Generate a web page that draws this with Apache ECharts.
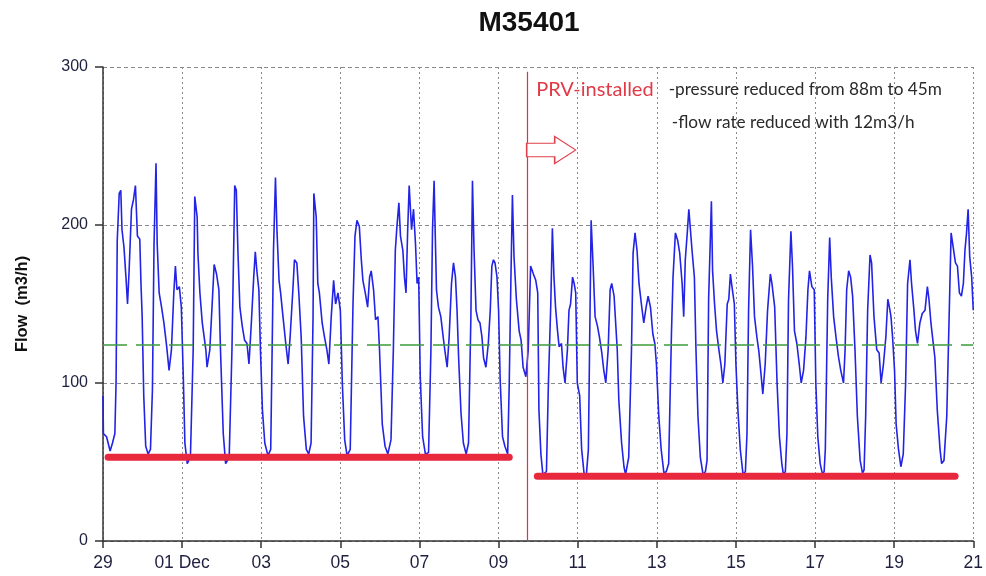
<!DOCTYPE html>
<html>
<head>
<meta charset="utf-8">
<title>M35401</title>
<script src="https://cdn.jsdelivr.net/npm/echarts@6/dist/echarts.min.js"></script>
<style>
  html, body { margin: 0; padding: 0; background: #ffffff; }
  #chart { width: 986px; height: 576px; }
</style>
</head>
<body>
<div id="chart"></div>
<script>
// Hourly-ish flow readings, x = days since 29 Nov 00:00
const daysBefore = [
  0.00, 0.01, 0.09, 0.18, 0.24, 0.30, 0.33, 0.36, 0.41, 0.45, 0.48, 0.53, 0.58, 0.62, 0.66, 0.72, 0.77, 0.82, 0.87, 0.93, 0.96, 0.99,
  1.03, 1.08, 1.14, 1.20, 1.25, 1.29, 1.34, 1.37, 1.42, 1.48, 1.54, 1.61, 1.67, 1.73, 1.79, 1.83, 1.87, 1.93, 1.98,
  2.03, 2.07, 2.13, 2.21, 2.28, 2.32, 2.38, 2.40, 2.45, 2.51, 2.60, 2.63, 2.70, 2.77, 2.81, 2.87, 2.93, 2.97,
  3.04, 3.10, 3.19, 3.26, 3.31, 3.33, 3.37, 3.41, 3.46, 3.52, 3.58, 3.64, 3.69, 3.75, 3.81, 3.85, 3.89, 3.94, 3.98,
  4.03, 4.09, 4.17, 4.24, 4.28, 4.31, 4.36, 4.40, 4.45, 4.49, 4.55, 4.62, 4.68, 4.73, 4.80, 4.84, 4.90, 4.95,
  5.01, 5.07, 5.14, 5.20, 5.26, 5.31, 5.33, 5.39, 5.43, 5.47, 5.54, 5.60, 5.66, 5.71, 5.77, 5.83, 5.88, 5.94,
  6.00, 6.05, 6.11, 6.17, 6.25, 6.32, 6.37, 6.42, 6.48, 6.53, 6.57, 6.63, 6.69, 6.74, 6.78, 6.84, 6.89, 6.95, 6.99,
  7.06, 7.13, 7.20, 7.28, 7.34, 7.39, 7.43, 7.48, 7.52, 7.58, 7.62, 7.66, 7.70, 7.74, 7.80, 7.85, 7.90, 7.94, 7.98,
  8.02, 8.08, 8.15, 8.23, 8.29, 8.33, 8.37, 8.40, 8.43, 8.48, 8.54, 8.60, 8.65, 8.70, 8.75, 8.81, 8.86, 8.91, 8.95, 8.99,
  9.05, 9.11, 9.18, 9.24, 9.30, 9.34, 9.38, 9.43, 9.48, 9.53, 9.58, 9.62, 9.68, 9.74, 9.79, 9.83, 9.87, 9.91, 9.96,
  10.00, 10.04, 10.10, 10.16, 10.23, 10.27, 10.31, 10.35, 10.39, 10.45, 10.52, 10.57, 10.62, 10.69
];
const flowBefore = [
  92, 68, 66, 57, 62, 68, 100, 190, 220, 222, 197, 186, 167, 150, 171, 210, 216, 225, 193, 191, 163, 142,
  92, 60, 55, 58, 96, 188, 239, 188, 157, 148, 138, 123, 108, 121, 157, 174, 159, 161, 148,
  104, 62, 49, 53, 121, 218, 205, 182, 157, 138, 121, 110, 121, 155, 175, 169, 159, 121,
  68, 49, 53, 121, 195, 225, 222, 184, 148, 136, 127, 125, 112, 138, 167, 183, 171, 159, 121,
  83, 62, 54, 58, 129, 184, 230, 195, 165, 157, 142, 125, 112, 129, 159, 178, 176, 157,
  129, 79, 58, 55, 62, 142, 220, 205, 163, 157, 138, 129, 121, 112, 142, 165, 150, 157,
  146, 100, 64, 54, 58, 150, 193, 203, 199, 178, 165, 157, 148, 167, 171, 159, 140, 142, 121,
  74, 60, 55, 64, 121, 184, 199, 214, 193, 184, 167, 157, 195, 225, 197, 210, 188, 163, 167,
  104, 66, 55, 56, 121, 197, 228, 193, 159, 148, 142, 129, 119, 110, 129, 163, 176, 167, 146, 116,
  81, 62, 55, 62, 142, 228, 184, 146, 140, 138, 129, 116, 110, 125, 146, 174, 178, 176, 167,
  146, 102, 66, 60, 55, 100, 163, 219, 180, 153, 133, 127, 110, 104
];
const daysAfter = [
  10.75, 10.81, 10.88, 10.94, 10.99,
  11.02, 11.07, 11.12, 11.17, 11.21, 11.26, 11.32, 11.36, 11.40, 11.44, 11.49, 11.53, 11.59, 11.63, 11.68, 11.74, 11.78, 11.82, 11.87, 11.91, 11.95, 11.99,
  12.05, 12.10, 12.16, 12.22, 12.27, 12.30, 12.34, 12.39, 12.44, 12.50, 12.55, 12.61, 12.66, 12.71, 12.77, 12.82, 12.86, 12.92, 12.96,
  13.00, 13.04, 13.11, 13.17, 13.21, 13.29, 13.36, 13.40, 13.45, 13.50, 13.55, 13.61, 13.67, 13.73, 13.78, 13.84, 13.90, 13.95, 13.99,
  14.05, 14.11, 14.18, 14.24, 14.30, 14.37, 14.41, 14.47, 14.53, 14.58, 14.64, 14.68, 14.72, 14.77, 14.81, 14.85, 14.89, 14.95, 14.99,
  15.04, 15.10, 15.17, 15.23, 15.27, 15.31, 15.38, 15.41, 15.46, 15.51, 15.57, 15.62, 15.67, 15.72, 15.78, 15.82, 15.86, 15.90, 15.96,
  16.00, 16.05, 16.11, 16.18, 16.24, 16.28, 16.32, 16.37, 16.42, 16.47, 16.53, 16.58, 16.64, 16.68, 16.74, 16.80, 16.87, 16.91, 16.95, 16.98,
  17.04, 17.10, 17.16, 17.20, 17.25, 17.29, 17.33, 17.39, 17.43, 17.48, 17.54, 17.60, 17.65, 17.71, 17.77, 17.82, 17.86, 17.92, 17.98,
  18.02, 18.07, 18.13, 18.19, 18.23, 18.26, 18.32, 18.37, 18.41, 18.47, 18.53, 18.59, 18.65, 18.72, 18.76, 18.80, 18.85, 18.90, 18.95,
  19.01, 19.07, 19.14, 19.20, 19.24, 19.28, 19.33, 19.39, 19.43, 19.49, 19.56, 19.62, 19.67, 19.73, 19.79, 19.84, 19.88, 19.92, 19.96,
  20.01, 20.05, 20.11, 20.17, 20.23, 20.29, 20.34, 20.40, 20.44, 20.50, 20.54, 20.59, 20.65, 20.71, 20.78, 20.84, 20.88, 20.93, 20.97,
  21.03, 21.09, 21.16, 21.20, 21.26, 21.33, 21.39, 21.44, 21.49, 21.55, 21.60, 21.65, 21.70, 21.75, 21.79, 21.83, 21.87, 21.91, 21.96, 22.00
];
const flowAfter = [
  121, 174, 169, 165, 157,
  83, 55, 42, 41, 44, 100, 150, 198, 167, 148, 133, 123, 125, 110, 100, 121, 146, 150, 167, 163, 157, 100,
  92, 58, 43, 42, 58, 121, 203, 174, 142, 136, 129, 119, 108, 100, 121, 159, 163, 155, 138,
  121, 89, 62, 47, 42, 53, 121, 182, 195, 184, 163, 150, 138, 148, 155, 148, 131, 125, 112,
  79, 58, 43, 44, 49, 131, 167, 195, 190, 182, 163, 142, 178, 195, 210, 197, 184, 167, 121,
  79, 53, 42, 44, 51, 153, 215, 171, 150, 133, 121, 112, 100, 112, 150, 153, 169, 161, 150,
  112, 83, 58, 42, 44, 68, 146, 197, 174, 142, 129, 120, 104, 93, 112, 146, 169, 163, 163, 148,
  100, 66, 49, 42, 44, 68, 153, 196, 174, 133, 125, 112, 100, 108, 129, 159, 171, 161, 159,
  100, 66, 49, 42, 44, 58, 153, 192, 167, 142, 129, 117, 108, 100, 121, 159, 171, 167, 155,
  121, 79, 51, 43, 45, 79, 146, 181, 176, 142, 121, 119, 100, 112, 129, 153, 148, 142, 129,
  108, 74, 58, 47, 55, 100, 163, 178, 163, 146, 133, 125, 138, 144, 146, 161, 153, 138, 129,
  116, 83, 58, 49, 51, 79, 142, 195, 196, 176, 174, 157, 155, 163, 184, 195, 210, 180, 167, 146
];

const xTickLabels = ['29', '01 Dec', '03', '05', '07', '09', '11', '13', '15', '17', '19', '21'];
const avgFlow = 124;          // dashed green reference level, m3/h
const prvDay = 10.72;         // PRV installed (9 Dec, afternoon)
const nightMinBefore = { from: 0.13, to: 10.27, value: 53 };
const nightMinAfter  = { from: 10.98, to: 21.54, value: 41 };
const noteLines = ['PRV-installed', '-pressure reduced from 88m to 45m', '-flow rate reduced with 12m3/h'];

const flowData = daysBefore.map((d, i) => [d, flowBefore[i]])
  .concat(daysAfter.map((d, i) => [d, flowAfter[i]]));

const chart = echarts.init(document.getElementById('chart'), null, { renderer: 'canvas' });

const labelColor = '#1f1f3f';
const axisFont = '"Liberation Sans", Arial, sans-serif';
const noteFont = 'Lato, "Open Sans", sans-serif';
const arrowPath = 'path://M0,7 L28,7 L28,0 L49,14 L28,28 L28,21 L0,21 Z';

chart.setOption({
  animation: false,
  backgroundColor: '#ffffff',
  title: {
    text: 'M35401',
    left: 524,
    top: 4,
    textAlign: 'center',
    textStyle: { fontFamily: axisFont, fontSize: 28, fontWeight: 'bold', color: '#111111' }
  },
  grid: { left: 103, right: 11, top: 67, bottom: 35, containLabel: false },
  xAxis: {
    type: 'value',
    min: 0,
    max: 22,
    interval: 2,
    axisLine: { show: true, onZero: false, lineStyle: { color: '#333333', width: 1.5 } },
    axisTick: { show: true, length: 7, lineStyle: { color: '#333333', width: 1.5 } },
    axisLabel: {
      margin: 13,
      fontSize: 17.5,
      color: labelColor,
      fontFamily: axisFont,
      formatter: v => xTickLabels[Math.round(v / 2)] || ''
    },
    splitLine: { show: true, lineStyle: { color: '#8a8a8a', type: [2, 3], width: 1 } }
  },
  yAxis: {
    type: 'value',
    min: 0,
    max: 300,
    interval: 100,
    name: 'Flow  (m3/h)',
    nameLocation: 'middle',
    nameGap: 72,
    nameTextStyle: { fontFamily: axisFont, fontSize: 16.5, fontWeight: 'bold', color: '#111111' },
    axisLine: { show: true, lineStyle: { color: '#333333', width: 1.5 } },
    axisTick: { show: true, length: 8, lineStyle: { color: '#333333', width: 1.5 } },
    axisLabel: { margin: 15, fontSize: 16, color: labelColor, fontFamily: axisFont },
    splitLine: { show: true, lineStyle: { color: '#8a8a8a', type: [4, 3], width: 1 } }
  },
  series: [
    {
      name: 'Flow',
      type: 'line',
      data: flowData,
      showSymbol: false,
      symbol: 'none',
      lineStyle: { color: '#2323e6', width: 1.6 },
      z: 3,
      markLine: {
        silent: true,
        symbol: 'none',
        label: { show: false },
        data: [
          { yAxis: avgFlow, lineStyle: { color: '#3c9a3c', width: 1.5, type: [24, 9] } },
          [
            { coord: [prvDay, 297], lineStyle: { color: '#e2303e', width: 1.2, type: 'solid' } },
            { coord: [prvDay, 0] }
          ]
        ]
      },
      markPoint: {
        silent: true,
        data: [
          {
            coord: [11.33, 247.5],
            symbol: arrowPath,
            symbolSize: [49, 27],
            itemStyle: { color: '#ffffff', borderColor: '#e0404c', borderWidth: 1.2 },
            label: { show: false }
          },
          {
            coord: [10.95, 285.5],
            symbol: 'circle', symbolSize: 0,
            label: { show: true, position: 'inside', align: 'left', verticalAlign: 'middle',
              formatter: noteLines[0], color: '#e03a46', fontSize: 20, fontFamily: noteFont }
          },
          {
            coord: [14.30, 285.5],
            symbol: 'circle', symbolSize: 0,
            label: { show: true, position: 'inside', align: 'left', verticalAlign: 'middle',
              formatter: noteLines[1], color: '#2a2a2a', fontSize: 17.2, fontFamily: noteFont }
          },
          {
            coord: [14.38, 265.2],
            symbol: 'circle', symbolSize: 0,
            label: { show: true, position: 'inside', align: 'left', verticalAlign: 'middle',
              formatter: noteLines[2], color: '#2a2a2a', fontSize: 17.2, fontFamily: noteFont }
          }
        ]
      }
    },
    {
      name: 'Night minimum before',
      type: 'line',
      data: [[nightMinBefore.from, nightMinBefore.value], [nightMinBefore.to, nightMinBefore.value]],
      symbol: 'none',
      lineStyle: { color: '#e8283c', width: 7, cap: 'round' },
      z: 4
    },
    {
      name: 'Night minimum after',
      type: 'line',
      data: [[nightMinAfter.from, nightMinAfter.value], [nightMinAfter.to, nightMinAfter.value]],
      symbol: 'none',
      lineStyle: { color: '#e8283c', width: 7, cap: 'round' },
      z: 4
    }
  ]
});
</script>
</body>
</html>
